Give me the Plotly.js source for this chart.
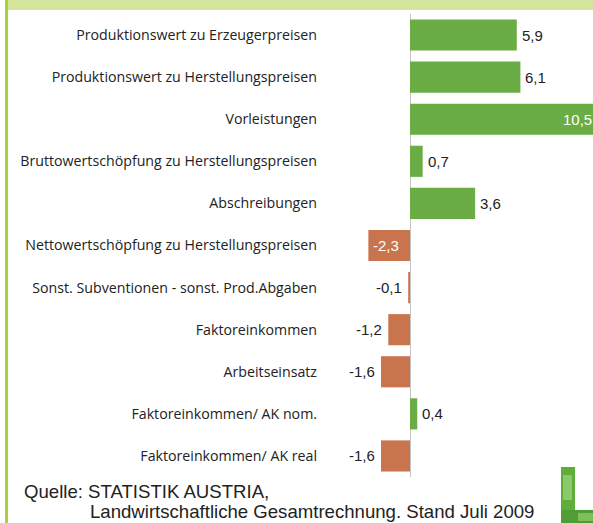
<!DOCTYPE html>
<html>
<head>
<meta charset="utf-8">
<script src="https://cdn.plot.ly/plotly-3.0.1.min.js"></script>
<style>html,body{margin:0;padding:0;background:#fff;}#chart{width:593px;height:523px;}</style>
</head>
<body>
<div id="chart"></div>
<script>
const categories = [
  "Produktionswert zu Erzeugerpreisen",
  "Produktionswert zu Herstellungspreisen",
  "Vorleistungen",
  "Bruttowertschöpfung zu Herstellungspreisen",
  "Abschreibungen",
  "Nettowertschöpfung zu Herstellungspreisen",
  "Sonst. Subventionen - sonst. Prod.Abgaben",
  "Faktoreinkommen",
  "Arbeitseinsatz",
  "Faktoreinkommen/ AK nom.",
  "Faktoreinkommen/ AK real"
];
const values = [5.9, 6.1, 10.5, 0.7, 3.6, -2.3, -0.1, -1.2, -1.6, 0.4, -1.6];
const labelInside = [false, false, true, false, false, true, false, false, false, false, false];
const sourceLine1 = "Quelle: STATISTIK AUSTRIA,";
const sourceLine2 = "Landwirtschaftliche Gesamtrechnung. Stand Juli 2009";

const W = 593, H = 523, L = 330, R = 0, T = 14, B = 46;
const pw = W - L - R, ph = H - T - B;
const px = x => (x - L) / pw;
const py = y => (H - B - y) / ph;
const xRange = [(L - 410) / 18.1, (W - 410) / 18.1];

const green = "#6aad45", orange = "#c8744c";
const colors = values.map(v => v >= 0 ? green : orange);
const texts = values.map(v => v.toFixed(1).replace('.', ','));

const trace = {
  type: "bar",
  orientation: "h",
  y: categories,
  x: values,
  marker: {color: colors},
  hoverinfo: "none"
};

const valueFont = "Liberation Sans, Arial, sans-serif";
const valueAnnotations = values.map((v, i) => {
  const inside = labelInside[i];
  const pos = v >= 0;
  const xv = Math.max(Math.min(v, xRange[1]), xRange[0]);
  let anchor, shift;
  if (inside) { anchor = pos ? "right" : "left"; shift = pos ? 1 : 3; }
  else { anchor = pos ? "left" : "right"; shift = pos ? 3 : -4; }
  return {xref: "x", yref: "y", x: xv, y: categories[i], xanchor: anchor, yanchor: "middle",
    xshift: shift, yshift: 0, text: texts[i], showarrow: false,
    font: {family: valueFont, size: 15, color: inside ? "#ffffff" : "#222222"}};
});

function rect(x0, y0, x1, y1, color) {
  return {type: "rect", xref: "paper", yref: "paper", x0: px(x0), x1: px(x1), y0: py(y0), y1: py(y1),
    fillcolor: color, line: {width: 0}, layer: "below"};
}

const layout = {
  width: W, height: H,
  margin: {l: L, r: R, t: T, b: B, pad: 0},
  paper_bgcolor: "#ffffff", plot_bgcolor: "rgba(0,0,0,0)",
  showlegend: false,
  bargap: 0.26,
  xaxis: {range: xRange, showgrid: false, showticklabels: false,
    zeroline: true, zerolinecolor: "#c4c4c4", zerolinewidth: 1, fixedrange: true, showline: false},
  yaxis: {autorange: "reversed", showgrid: false, zeroline: false, ticks: "", showline: false,
    ticklabelstandoff: 12, automargin: false,
    tickfont: {family: "Open Sans, Liberation Sans, sans-serif", size: 14.2, color: "#222222"}},
  shapes: [
    rect(8, 0, 593, 10, "#d5e59e"),
    rect(5, 0, 8, 523, "#a9d13c"),
    rect(561, 467, 575, 523, "#5fae3c"),
    rect(561, 510, 593, 523, "#4e9e35"),
    rect(563, 475, 572, 500, "#8cc96a"),
    rect(578, 513, 593, 521, "#7fbf5a")
  ],
  annotations: valueAnnotations.concat([
    {xref: "paper", yref: "paper", x: px(22), y: py(491), xanchor: "left", yanchor: "middle",
     text: sourceLine1, showarrow: false, font: {family: "Liberation Sans, Arial, sans-serif", size: 18.6, color: "#222222"}},
    {xref: "paper", yref: "paper", x: px(88), y: py(511), xanchor: "left", yanchor: "middle",
     text: sourceLine2, showarrow: false, font: {family: "Liberation Sans, Arial, sans-serif", size: 18.6, color: "#222222"}}
  ])
};

Plotly.newPlot("chart", [trace], layout, {displayModeBar: false, staticPlot: true});
</script>
</body>
</html>
